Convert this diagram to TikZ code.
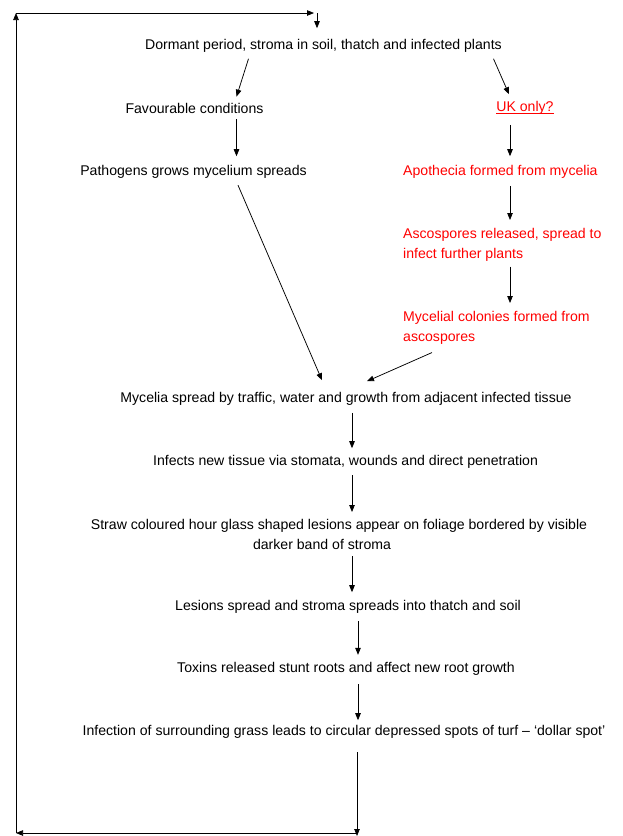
\documentclass[tikz,border=0pt]{standalone}
\usepackage{fontspec}
\setmainfont{Liberation Sans}
\usetikzlibrary{arrows.meta}
\definecolor{ukred}{RGB}{255,0,0}
\newcommand\ukline[1]{\setbox0\hbox{#1}\rlap{\rule[-1.8pt]{\wd0}{0.8pt}}\box0}
\tikzset{
  stage/.style={inner sep=0pt, font=\fontsize{14.1}{20}\selectfont},
  ukstage/.style={stage, text=ukred, align=left},
  flow/.style={-{Triangle[length=7pt,width=5.5pt]}, line width=0.75pt}
}
\begin{document}
\begin{tikzpicture}[x=1pt,y=-1pt]
      \useasboundingbox (0,0) rectangle (622,836);
      \draw
        (323.5,46) node[stage] (dormant){Dormant period, stroma in soil, thatch and infected plants}
        (194.5,108) node[stage] (favour){Favourable conditions}
        (525,108) node[stage, text=ukred] (ukonly){\ukline{UK only?}}
        (193.5,172) node[stage] (pathogen){Pathogens grows mycelium spreads}
        (403,172) node[stage, text=ukred, anchor=west] (apoth){Apothecia formed from mycelia}
        (403,228) node[ukstage, anchor=north west] (ascosp){Ascospores released, spread to\\infect further plants}
        (403,311) node[ukstage, anchor=north west] (mycol){Mycelial colonies formed from\\ascospores}
        (346,399) node[stage] (myspread){Mycelia spread by traffic, water and growth from adjacent infected tissue}
        (345.5,462) node[stage] (infects){Infects new tissue via stomata, wounds and direct penetration}
        (339,519) node[stage, align=center, anchor=north] (straw){Straw coloured hour glass shaped lesions appear on foliage bordered by visible\\darker band of stroma\hspace*{34pt}}
        (348,607) node[stage] (lesions){Lesions spread and stroma spreads into thatch and soil}
        (346,669) node[stage] (toxins){Toxins released stunt roots and affect new root growth}
        (344,732) node[stage] (infection){Infection of surrounding grass leads to circular depressed spots of turf – ‘dollar spot’};
      \coordinate (br) at (357,833);
      \coordinate (bl) at (16,833);
      \coordinate (tl) at (16,13);
      \coordinate (tr) at (317,13);
      \begin{scope}[flow]
        \draw ([shift={(-75,6)}]dormant.south) to ([shift={(42,-6)}]favour.north);
        \draw ([shift={(170,6)}]dormant.south) to ([shift={(-16,-7)}]ukonly.north);
        \draw ([shift={(42,6)}]favour.south) to ([shift={(43,-9)}]pathogen.north);
        \draw ([shift={(-15,10)}]ukonly.south) to ([shift={(107,-9)}]apoth.north west);
        \draw ([shift={(107,7)}]apoth.south west) to ([shift={(107,-8)}]ascosp.north west);
        \draw ([shift={(107,5)}]ascosp.south west) to ([shift={(107,-8)}]mycol.north west);
        \draw ([shift={(44.5,6.4)}]pathogen.south) to ([shift={(-24,-12)}]myspread.north);
        \draw ([shift={(29,8)}]mycol.south west) to ([shift={(21,-11)}]myspread.north);
        \draw ([shift={(6,7)}]myspread.south) to ([shift={(6.5,-7)}]infects.north);
        \draw ([shift={(6.5,6.5)}]infects.south) to ([shift={(13,-7)}]straw.north);
        \draw ([shift={(13,37)}]straw.north) to ([shift={(4,-8)}]lesions.north);
        \draw ([shift={(10,7.4)}]lesions.south) to ([shift={(12,-7.4)}]toxins.north);
        \draw ([shift={(12,8.4)}]toxins.south) to ([shift={(14,-5)}]infection.north);
        \draw ([shift={(13,13.4)}]infection.south) to ([yshift=-3]br);
        \draw (br) to (bl);
        \draw (bl) to (tl);
        \draw (tl) to ([xshift=-3]tr);
        \draw (tr) to ([shift={(-6.5,-11)}]dormant.north);
      \end{scope}
    \end{tikzpicture}
\end{document}
